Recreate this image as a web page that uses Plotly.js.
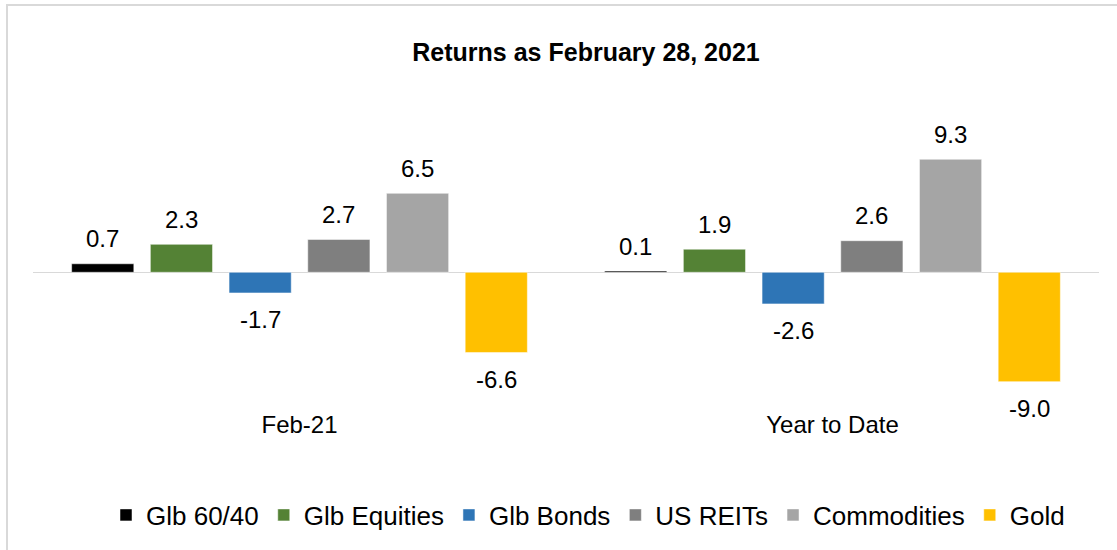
<!DOCTYPE html>
<html>
<head>
<meta charset="utf-8">
<script src="https://cdn.plot.ly/plotly-3.0.1.min.js"></script>
<style>html,body{margin:0;padding:0;background:#fff;}#chart{width:1117px;height:550px;}</style>
</head>
<body>
<div id="chart"></div>
<script>
const categories = ["Feb-21", "Year to Date"];
const seriesNames = ["Glb 60/40", "Glb Equities", "Glb Bonds", "US REITs", "Commodities", "Gold"];
const glb6040 = [0.7, 0.1];
const glbEquities = [2.3, 1.9];
const glbBonds = [-1.7, -2.6];
const usReits = [2.7, 2.6];
const commodities = [6.5, 9.3];
const gold = [-6.6, -9.0];
const seriesValues = [glb6040, glbEquities, glbBonds, usReits, commodities, gold];
const colors = ["#000000", "#548235", "#2E75B6", "#7F7F7F", "#A5A5A5", "#FFC000"];

const FONT = "Liberation Sans, Arial, sans-serif";
const FS = 24;
const W = 1117, H = 550;
const m = {l: 33, r: 18, t: 100, b: 142};
const plotW = W - m.l - m.r;
const bargap = 0.114, bargroupgap = 0.21;
const catW = plotW / categories.length;
const slot = catW * (1 - bargap) / seriesNames.length;

const traces = seriesNames.map((name, i) => ({
  type: "bar",
  name: name,
  x: categories,
  y: seriesValues[i],
  marker: {color: colors[i], line: {color: "#ffffff", width: 0.5}},
  hoverinfo: "skip"
}));

const annotations = [];
seriesValues.forEach((vals, i) => {
  vals.forEach((v, j) => {
    annotations.push({
      x: categories[j], y: v, xref: "x", yref: "y",
      text: v.toFixed(1),
      showarrow: false,
      xshift: (i - (seriesNames.length - 1) / 2) * slot,
      yanchor: "middle",
      yshift: v >= 0 ? 25 : -27,
      font: {family: FONT, size: FS, color: "#000000"}
    });
  });
});

const layout = {
  width: W, height: H,
  margin: m,
  paper_bgcolor: "#ffffff",
  plot_bgcolor: "#ffffff",
  barmode: "group",
  bargap: bargap,
  bargroupgap: bargroupgap,
  title: {
    text: "<b>Returns as February 28, 2021</b>",
    font: {family: FONT, size: 25, color: "#000000"},
    x: 586 / W, xanchor: "center", xref: "container",
    y: 1 - 52 / H, yanchor: "middle", yref: "container"
  },
  xaxis: {
    type: "category",
    showgrid: false, showline: false, zeroline: false,
    ticks: "", ticklen: 0,
    tickfont: {family: FONT, size: FS, color: "#000000"},
    fixedrange: true
  },
  yaxis: {
    range: [-11.17, 14.18],
    showgrid: false, showline: false,
    showticklabels: false, ticks: "",
    zeroline: true, zerolinecolor: "#D9D9D9", zerolinewidth: 1.5,
    fixedrange: true
  },
  showlegend: true,
  legend: {
    orientation: "h",
    x: 588 / W, xref: "container", xanchor: "center",
    y: 1 - 515 / H, yref: "container", yanchor: "middle",
    font: {family: FONT, size: 26, color: "#000000"},
    itemclick: false, itemdoubleclick: false,
    traceorder: "normal"
  },
  annotations: annotations,
  shapes: [{
    type: "rect", xref: "paper", yref: "paper",
    x0: (7 - m.l) / plotW, x1: 1.2,
    y0: -2, y1: (H - m.b - 5) / (H - m.t - m.b),
    line: {color: "#D9D9D9", width: 2},
    fillcolor: "rgba(0,0,0,0)"
  }]
};

Plotly.newPlot("chart", traces, layout, {displayModeBar: false, staticPlot: true});
</script>
</body>
</html>
